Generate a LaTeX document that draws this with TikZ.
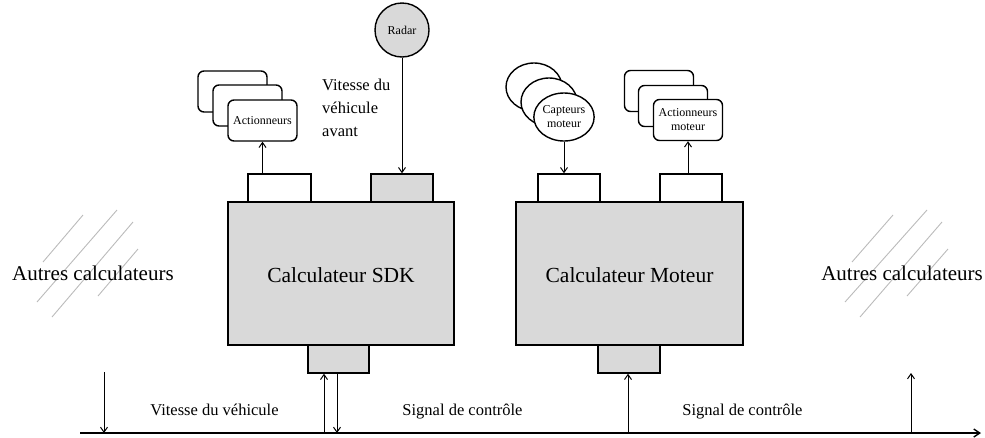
\documentclass[tikz,border=0pt]{standalone}
\usepackage{fontspec}
\setmainfont{Liberation Serif}
\usetikzlibrary{arrows.meta,shapes.geometric}
\definecolor{boxgray}{HTML}{D9D9D9}
\definecolor{hatchgray}{HTML}{BBBBBB}
\tikzset{
  ecu/.style={draw, line width=1.4pt, fill=boxgray, inner sep=0pt, font=\fontsize{21.5}{24}\selectfont},
  port/.style={draw, line width=1.4pt, inner sep=0pt},
  actbox/.style={draw, line width=1.4pt, fill=white, rounded corners=6pt, minimum width=69pt, minimum height=41pt, inner sep=0pt, align=center, font=\fontsize{12}{14}\selectfont},
  capt/.style={draw, line width=1.4pt, fill=white, ellipse, inner sep=0pt, align=center, font=\fontsize{12}{14}\selectfont},
  sig/.style={line width=1pt, -{Straight Barb[length=5pt,width=7pt]}},
  lbl/.style={inner sep=0pt, font=\fontsize{16.5}{23}\selectfont},
  big/.style={inner sep=0pt, font=\fontsize{21}{24}\selectfont},
  hatch/.style={hatchgray, line width=0.9pt},
}
\begin{document}
\begin{tikzpicture}[x=1pt,y=-1pt]
\useasboundingbox (0,0) rectangle (985,437);

% hatching
\draw[hatch] (43,262) -- (83,215);
\draw[hatch] (37,302) -- (117,210);
\draw[hatch] (52,317) -- (133,222);
\draw[hatch] (98,296) -- (138,249);
\draw[hatch] (852,262) -- (893,215);
\draw[hatch] (845,302) -- (927,210);
\draw[hatch] (860,317) -- (942,222);
\draw[hatch] (907,296) -- (948,249);

\node[big, anchor=base west] (autresL) at (12,280) {Autres calculateurs};
\node[big, anchor=base east] (autresR) at (983,280) {Autres calculateurs};

% ECUs
\node[ecu, minimum width=226pt, minimum height=143pt] (sdk) at (341,273.5) {};
\node[ecu, minimum width=227pt, minimum height=143pt] (mot) at (629.5,273.5) {};
\node[font=\fontsize{21.5}{24}\selectfont, inner sep=0pt, anchor=base] (sdkT) at (341,282) {Calculateur SDK};
\node[font=\fontsize{21.5}{24}\selectfont, inner sep=0pt, anchor=base] (motT) at (629.5,282) {Calculateur Moteur};

% ports
\node[port, fill=white, minimum width=63pt, minimum height=28pt] (sdkA) at (279.5,188) {};
\node[port, fill=boxgray, minimum width=62pt, minimum height=28pt] (sdkB) at (402,188) {};
\node[port, fill=boxgray, minimum width=61pt, minimum height=28pt] (sdkC) at (338.5,359) {};
\node[port, fill=white, minimum width=62pt, minimum height=28pt] (motA) at (569,188) {};
\node[port, fill=white, minimum width=62pt, minimum height=28pt] (motB) at (691,188) {};
\node[port, fill=boxgray, minimum width=62pt, minimum height=28pt] (motC) at (629,359) {};

% Actionneurs stack
\node[actbox] (act1) at (232.5,91.5) {};
\node[actbox] (act2) at (247.5,105.5) {};
\node[actbox] (act3) at (262.5,120.5) {Actionneurs};

% Actionneurs moteur stack
\node[actbox] (am1) at (659,91) {};
\node[actbox] (am2) at (673,106) {};
\node[actbox] (am3) at (688,120) {Actionneurs\\moteur};

% Capteurs moteur
\node[capt, minimum width=56pt, minimum height=48pt] (cap1) at (534,87) {};
\node[capt, minimum width=56pt, minimum height=48pt] (cap2) at (549,102) {};
\node[capt, minimum width=56pt, minimum height=48pt] (cap3) at (564,117) {Capteurs\\moteur};

% Radar
\node[draw, line width=1.4pt, fill=boxgray, circle, minimum size=54pt, inner sep=0pt, font=\fontsize{12}{14}\selectfont] (radar) at (402,30) {Radar};

\node[lbl, anchor=north west, align=left] (vav) at (322,79) {Vitesse du\\v\'ehicule\\avant};

% connectors top
\draw[sig] (act3.south |- sdkA.north) -- (act3.south);
\draw[sig] (radar.south) -- (sdkB.north);
\draw[sig] (cap3.south) -- (cap3.south |- motA.north);
\draw[sig] (am3.south |- motB.north) -- (am3.south);

% bus
\coordinate (busL) at (80,433);
\coordinate (busR) at (981,433);
\draw[line width=1.4pt, -{Straight Barb[length=6pt,width=8pt]}] (busL) -- (busR);

\coordinate (inL) at (104,372);
\coordinate (outR) at (911,373);
\draw[sig] (inL) -- (inL |- busL);
\draw[sig] ([xshift=-14.5pt]sdkC.south |- busL) -- ([xshift=-14.5pt]sdkC.south);
\draw[sig] ([xshift=-1.5pt]sdkC.south) -- ([xshift=-1.5pt]sdkC.south |- busL);
\draw[sig] ([xshift=-1pt]motC.south |- busL) -- ([xshift=-1pt]motC.south);
\draw[sig] (outR |- busL) -- (outR);

% bus labels
\node[lbl, anchor=base] (l1) at (214.5,415) {Vitesse du v\'ehicule};
\node[lbl, anchor=base] (l2) at (462.5,415) {Signal de contr\^ole};
\node[lbl, anchor=base] (l3) at (742.5,415) {Signal de contr\^ole};
\end{tikzpicture}
\end{document}
